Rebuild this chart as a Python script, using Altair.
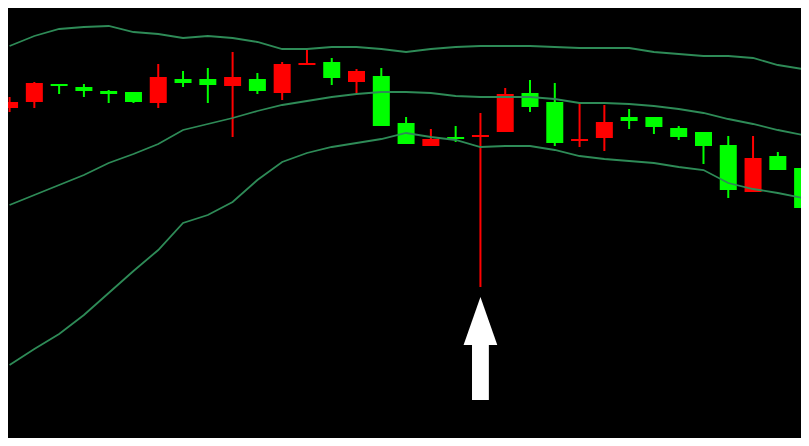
import altair as alt
import pandas as pd

# ---- data (price units) ----
bar_index = list(range(33))
open_ = [344, 363, 360, 355, 352, 344, 369, 363, 361, 369, 355, 382, 383, 368, 375, 320,
         302, 307, 307, 311, 352, 339, 303, 307, 324, 325, 319, 309, 300, 256, 288, 276, 238]
high = [349, 364, 362, 362, 356, 354, 382, 375, 378, 394, 373, 384, 396, 388, 377, 378,
        329, 317, 320, 333, 358, 366, 363, 343, 341, 337, 329, 320, 314, 310, 310, 294, 278]
low = [334, 338, 352, 349, 343, 343, 338, 359, 343, 309, 352, 346, 381, 361, 353, 320,
       302, 300, 304, 159, 314, 334, 300, 299, 295, 317, 312, 306, 282, 248, 254, 276, 223]
close = [338, 344, 362, 359, 355, 354, 343, 367, 367, 360, 367, 353, 381, 384, 364, 370,
         323, 300, 309, 309, 314, 353, 344, 305, 308, 329, 329, 318, 314, 301, 254, 290, 278]

upper_band = [400, 410, 417, 419, 420, 414, 412, 408, 410, 408, 404, 397, 397, 399, 399, 397,
              394, 397, 399, 400, 400, 400, 399, 398, 398, 398, 394, 392, 390, 390, 388, 381, 377]
middle_band = [241, 251, 261, 271, 283, 292, 302, 316, 322, 328, 335, 341, 345, 349, 352, 354,
               354, 353, 350, 349, 349, 349, 347, 343, 343, 342, 340, 337, 333, 327, 322, 316, 311]
lower_band = [81, 97, 112, 131, 153, 175, 196, 223, 231, 244, 266, 284, 293, 299, 303, 307,
              313, 309, 306, 299, 300, 300, 296, 290, 287, 285, 283, 279, 276, 263, 257, 253, 248]

# arrow annotation (pointing at the long-wick candle)
arrow_index = 19
arrow_tip = 149
arrow_head_base = 101
arrow_bottom = 46
arrow_head_half = 0.68
arrow_shaft_half = 0.34

# ---- frames ----
candles = pd.DataFrame({
    "i": bar_index, "open": open_, "high": high, "low": low, "close": close,
})
candles["dir"] = ["up" if c >= o else "down" for o, c in zip(open_, close)]

bands = pd.DataFrame({
    "i": bar_index * 3,
    "value": upper_band + middle_band + lower_band,
    "band": ["upper"] * 33 + ["middle"] * 33 + ["lower"] * 33,
})

head = pd.DataFrame({
    "i": [arrow_index - arrow_head_half, arrow_index, arrow_index + arrow_head_half],
    "y": [arrow_head_base, arrow_tip, arrow_head_base],
    "y2": [arrow_head_base] * 3,
})
shaft = pd.DataFrame({
    "i": [arrow_index - arrow_shaft_half], "i2": [arrow_index + arrow_shaft_half],
    "y": [arrow_bottom], "y2": [arrow_head_base + 1],
})

xs = alt.Scale(domain=[0.139, 31.733], nice=False, zero=False)
ys = alt.Scale(domain=[8, 438], nice=False, zero=False)
cs = alt.Scale(domain=["up", "down"], range=["#00FF00", "#FF0000"])

X = alt.X("i:Q", scale=xs, axis=None)

wicks = alt.Chart(candles).mark_rule(strokeWidth=2, clip=True).encode(
    x=X,
    y=alt.Y("low:Q", scale=ys, axis=None),
    y2="high:Q",
    color=alt.Color("dir:N", scale=cs, legend=None),
)
bodies = alt.Chart(candles).mark_bar(size=17, clip=True).encode(
    x=X,
    y=alt.Y("open:Q", scale=ys, axis=None),
    y2="close:Q",
    color=alt.Color("dir:N", scale=cs, legend=None),
)
lines = alt.Chart(bands).mark_line(color="#2E8B57", strokeWidth=1.8, clip=True).encode(
    x=X,
    y=alt.Y("value:Q", scale=ys, axis=None),
    detail="band:N",
)
arrow_head = alt.Chart(head).mark_area(color="#FFFFFF", clip=True).encode(
    x=X,
    y=alt.Y("y:Q", scale=ys, axis=None),
    y2="y2:Q",
)
arrow_shaft = alt.Chart(shaft).mark_rect(color="#FFFFFF", clip=True).encode(
    x=X, x2="i2:Q",
    y=alt.Y("y:Q", scale=ys, axis=None),
    y2="y2:Q",
)

chart = alt.layer(wicks, bodies, lines, arrow_head, arrow_shaft).properties(
    width=793, height=430, padding=0, autosize="none", background="#000000",
).configure_view(strokeWidth=0)

chart.save("out.html", embed_options={"renderer": "svg", "actions": False})
